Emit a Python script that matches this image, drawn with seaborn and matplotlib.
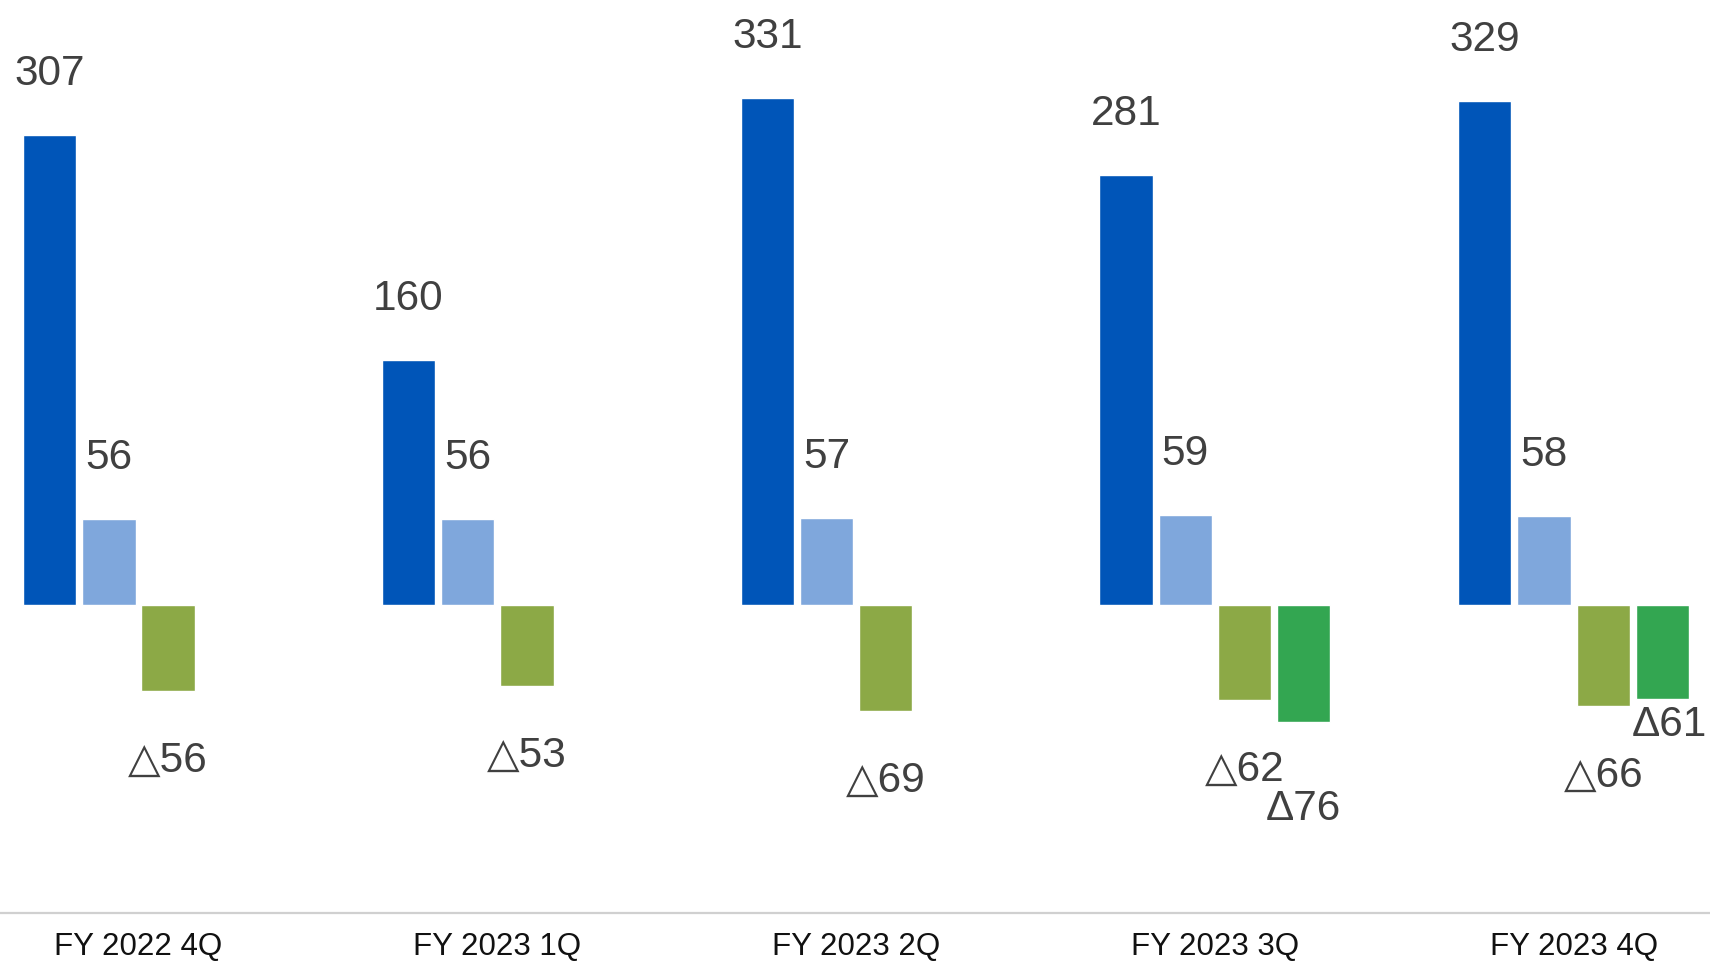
import numpy as np
import pandas as pd
import matplotlib
matplotlib.use("Agg")
import matplotlib.pyplot as plt
import seaborn as sns

# dati
quarters = ["FY 2022 4Q", "FY 2023 1Q", "FY 2023 2Q", "FY 2023 3Q", "FY 2023 4Q"]
series_names = ["s1", "s2", "s3", "s4"]
s1 = [307, 160, 331, 281, 329]
s2 = [56, 56, 57, 59, 58]
s3 = [-56, -53, -69, -62, -66]
s4 = [np.nan, np.nan, np.nan, -76, -61]

colors = ["#0055B8", "#7FA7DC", "#8CA946", "#33A651"]
neg_mark = {"s3": "\u25b3", "s4": "\u0394"}

sns.set_style("white")
plt.rcParams["font.family"] = ["Liberation Sans", "DejaVu Sans"]

df = pd.DataFrame({
    "quarter": quarters * 4,
    "series": [s for s in series_names for _ in quarters],
    "value": s1 + s2 + s3 + s4,
})

fig = plt.figure(figsize=(17.1, 9.63), dpi=100)
ax = fig.add_axes([0, 50 / 963, 1, 913 / 963])

sns.barplot(data=df.dropna(), x="quarter", y="value", hue="series",
            order=quarters, hue_order=series_names, palette=colors,
            width=0.66, gap=0.1, saturation=1, legend=False, ax=ax)

ax.set_xlim(-0.386, 4.38)
ax.set_ylim(-201, 395)

# offset etichette (punti) per le barre negative
neg_dy = {"s3": [-58] * 5, "s4": [0, 0, 0, -71, -27]}
neg_dx = {"s3": [0] * 5, "s4": [0, 0, 0, 0, 5]}

for name, cont in zip(series_names, ax.containers):
    for bar in cont:
        v = bar.get_height()
        if np.isnan(v):
            continue
        x = bar.get_x() + bar.get_width() / 2
        qi = int(round(x))
        if v >= 0:
            txt, dx, dy = f"{v:.0f}", 0, 36
        else:
            txt = neg_mark[name] + f"{abs(v):.0f}"
            dx, dy = neg_dx[name][qi], neg_dy[name][qi]
        ax.annotate(txt, (x, v), xytext=(dx, dy), textcoords="offset points",
                    ha="center", va="baseline", fontsize=30.5, color="#404040")

for s in ["top", "left", "right"]:
    ax.spines[s].set_visible(False)
ax.spines["bottom"].set_color("#D0D0D0")
ax.spines["bottom"].set_linewidth(1.6)
ax.set_yticks([])
ax.set_xlabel("")
ax.set_ylabel("")
ax.tick_params(axis="x", length=0, pad=14, labelsize=22.5, labelcolor="#111111")

fig.savefig("out.png", dpi=100)
